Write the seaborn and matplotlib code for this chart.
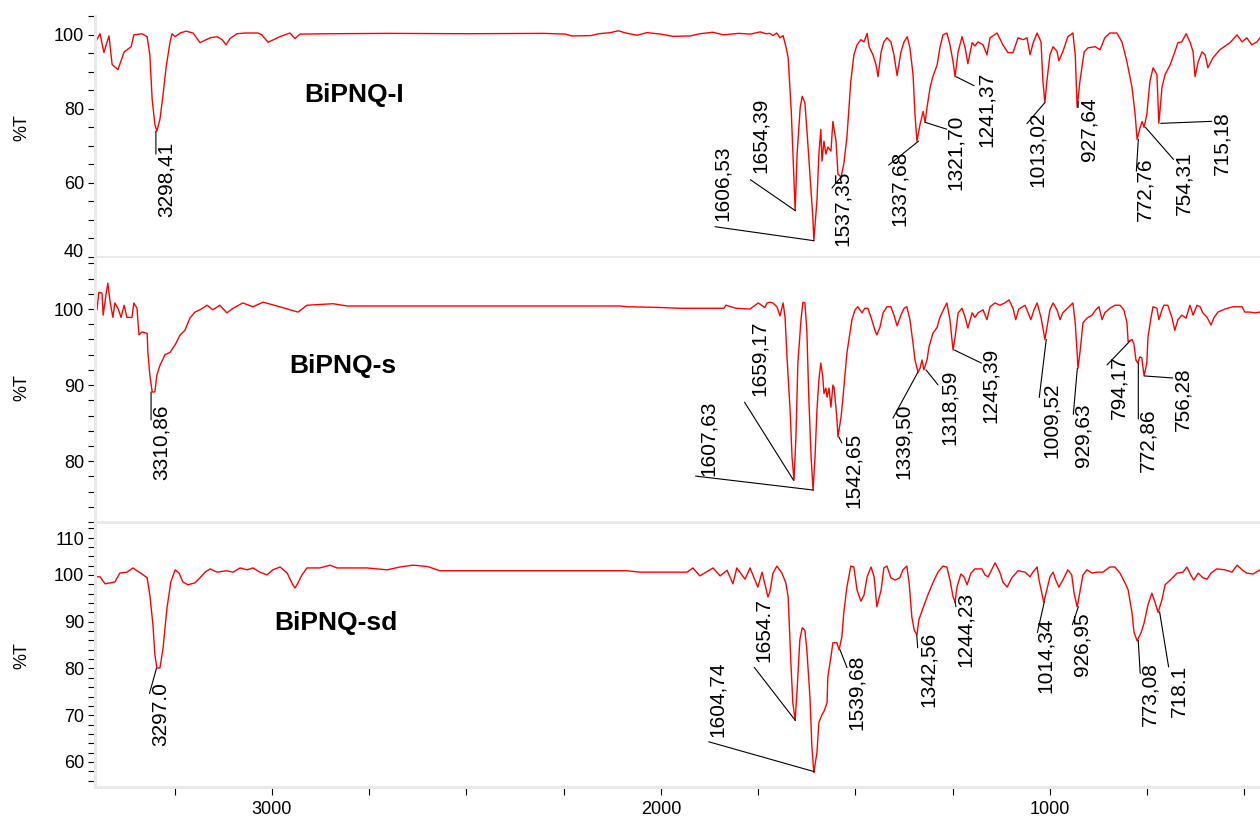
import matplotlib
matplotlib.use("Agg")
import matplotlib.pyplot as plt
from matplotlib.ticker import MultipleLocator, FixedLocator
from matplotlib.transforms import ScaledTranslation
import seaborn as sns

# ---- spectra (wavenumber cm-1, %T) ----
wn_I = [3455, 3442, 3432, 3424, 3419, 3411, 3396, 3380, 3362, 3355, 3334, 3321, 3314, 3308, 3301, 3296,
        3288, 3280, 3272, 3262, 3257, 3249, 3236, 3221, 3203, 3185, 3159, 3141, 3128, 3118, 3108, 3090,
        3069, 3036, 3026, 3010, 2980, 2954, 2941, 2928, 2850, 2700, 2500, 2300, 2245, 2230, 2180, 2160,
        2130, 2110, 2090, 2062, 2036, 2000, 1969, 1925, 1900, 1866, 1840, 1800, 1770, 1745, 1730,
        1720, 1712, 1702, 1694, 1686, 1678, 1673, 1665, 1660, 1655, 1650, 1642, 1637, 1630, 1624, 1617,
        1609, 1607, 1599, 1594, 1589, 1586, 1581, 1576, 1571, 1563, 1558, 1550, 1545, 1537, 1530, 1522,
        1512, 1504, 1496, 1486, 1478, 1470, 1465, 1455, 1447, 1442, 1434, 1427, 1419, 1409, 1401, 1393,
        1383, 1375, 1367, 1360, 1352, 1347, 1342, 1334, 1326, 1321, 1316, 1308, 1301, 1290, 1283, 1275,
        1265, 1257, 1249, 1244, 1236, 1226, 1218, 1211, 1200, 1193, 1185, 1172, 1162, 1154, 1136, 1121,
        1108, 1095, 1082, 1069, 1059, 1051, 1043, 1033, 1023, 1018, 1013, 1008, 1000, 992, 982, 977,
        967, 954, 941, 935, 930, 923, 912, 902, 884, 871, 859, 846, 828, 815, 802, 789, 781, 776, 768,
        763, 758, 751, 743, 735, 725, 720, 712, 704, 691, 679, 671, 661, 650, 640, 632, 627, 619, 609,
        601, 594, 581, 563, 537, 519, 506, 494, 481, 468, 460]
t_I = [97.8, 100.3, 95.2, 98.1, 99.7, 92.0, 90.6, 95.4, 96.8, 100.0, 100.3, 99.5, 94.6, 82.5, 75.8, 74.0,
       77.2, 83.9, 91.4, 98.1, 100.3, 99.5, 100.5, 101.0, 100.5, 97.9, 99.2, 99.5, 98.7, 97.3, 99.0, 100.3,
       100.5, 100.5, 100.0, 98.0, 99.5, 100.5, 99.0, 100.2, 100.3, 100.4, 100.3, 100.4, 100.2, 99.7, 99.8, 100.3,
       100.6, 101.1, 100.5, 99.9, 100.6, 100.2, 99.6, 99.7, 100.3, 100.7, 100.0, 100.4, 100.2, 100.8, 100.3,
       100.4, 99.8, 100.5, 99.2, 99.8, 96.5, 93.8, 79.3, 65.9, 52.5, 67.8, 80.4, 83.4, 81.7, 73.1, 62.4,
       49.8, 44.4, 55.2, 67.8, 74.5, 65.9, 71.3, 67.8, 69.7, 68.6, 76.6, 71.3, 62.4, 61.6, 65.1, 72.3,
       87.4, 94.6, 97.3, 98.7, 98.1, 100.4, 96.8, 94.6, 91.9, 88.7, 95.4, 98.1, 99.2, 98.1, 94.6, 89.0,
       95.4, 98.1, 99.5, 96.5, 89.3, 78.5, 71.3, 75.8, 79.3, 76.4, 80.4, 85.8, 88.7, 91.9, 96.5, 100.0,
       100.5, 97.3, 92.7, 88.7, 95.4, 99.5, 96.5, 92.2, 97.9, 97.0, 98.1, 97.3, 94.6, 99.2, 100.5, 97.3,
       95.2, 95.2, 99.2, 98.7, 99.2, 94.6, 97.9, 100.5, 98.1, 87.4, 81.7, 87.4, 94.6, 96.8, 95.6, 93.0,
       95.4, 99.5, 100.5, 94.6, 80.4, 87.4, 95.4, 96.5, 96.8, 96.0, 99.2, 100.5, 100.5, 98.1, 92.7, 85.8, 78.5, 71.8, 75.0,
       76.6, 75.0, 78.5, 87.4, 91.1, 89.3, 76.1, 85.8, 89.3, 91.9, 95.4, 97.9, 98.1, 100.3, 98.1, 95.4, 88.7, 92.7, 95.4,
       94.6, 91.1, 93.8, 96.0, 97.9, 100.0, 98.1, 99.2, 97.3, 98.1, 99.2]

wn_s = [3450, 3445, 3437, 3434, 3427, 3422, 3416, 3409, 3404, 3396, 3388, 3380, 3373, 3360, 3355, 3347,
        3342, 3334, 3321, 3319, 3314, 3308, 3301, 3296, 3288, 3275, 3262, 3249, 3236, 3224, 3211, 3198,
        3185, 3167, 3152, 3134, 3116, 3100, 3075, 3049, 3023, 2987, 2954, 2933, 2910, 2877, 2843, 2807,
        2756, 2704, 2500, 2300, 2105, 2087, 2000, 1951, 1838, 1833, 1807, 1771, 1750, 1733, 1727,
        1720, 1712, 1702, 1694, 1686, 1681, 1676, 1668, 1663, 1658, 1653, 1648, 1640, 1635, 1630, 1625,
        1620, 1614, 1609, 1604, 1599, 1594, 1589, 1584, 1581, 1576, 1573, 1568, 1563, 1558, 1555, 1548,
        1545, 1537, 1532, 1522, 1509, 1501, 1494, 1483, 1476, 1468, 1458, 1450, 1445, 1437, 1429, 1419,
        1409, 1401, 1393, 1383, 1375, 1368, 1360, 1352, 1347, 1339, 1334, 1329, 1324, 1316, 1311, 1301,
        1290, 1283, 1272, 1265, 1257, 1252, 1249, 1244, 1236, 1226, 1218, 1211, 1200, 1193, 1185, 1172,
        1162, 1154, 1141, 1129, 1116, 1105, 1095, 1088, 1080, 1064, 1057, 1049, 1041, 1033, 1023, 1018,
        1013, 1008, 1000, 992, 982, 974, 967, 951, 941, 935, 930, 928, 923, 915, 905, 892, 882, 874, 866,
        859, 846, 833, 820, 810, 802, 799, 789, 784, 779, 774, 769, 764, 758, 751, 748, 740, 735, 725,
        720, 712, 707, 697, 686, 679, 671, 661, 650, 640, 632, 622, 614, 607, 596, 586, 578, 568, 550,
        530, 506, 499, 486, 473, 460]
t_s = [99.9, 102.2, 102.1, 99.2, 101.8, 103.4, 100.9, 98.9, 100.8, 100.1, 98.9, 100.5, 98.9, 98.9, 100.8, 100.1,
       96.6, 97.0, 96.8, 94.3, 91.3, 89.1, 89.1, 91.3, 92.6, 94.0, 94.3, 95.3, 96.6, 97.2, 98.8, 99.6,
       99.9, 100.5, 99.9, 100.5, 99.5, 100.1, 100.8, 100.3, 100.9, 100.4, 99.9, 99.6, 100.5, 100.6, 100.7, 100.4,
       100.4, 100.4, 100.4, 100.4, 100.4, 100.3, 100.2, 100.1, 100.1, 100.5, 100.1, 100.0, 100.8, 100.2, 100.8,
       100.9, 100.8, 100.3, 99.1, 100.8, 98.9, 93.7, 86.7, 80.5, 77.5, 83.2, 92.9, 98.6, 100.9, 100.8, 97.2,
       88.4, 80.5, 76.2, 80.5, 86.7, 90.7, 92.9, 91.1, 88.9, 89.6, 88.4, 89.6, 87.1, 90.0, 89.7, 85.8,
       83.2, 85.8, 88.4, 94.2, 98.6, 99.9, 100.3, 99.5, 100.1, 100.1, 98.6, 97.2, 96.6, 97.6, 99.5, 100.3,
       100.3, 99.2, 97.8, 99.2, 100.1, 100.3, 98.6, 95.5, 93.3, 91.7, 92.2, 93.3, 92.0, 93.3, 95.0, 96.8,
       97.6, 98.9, 100.1, 100.8, 98.6, 96.0, 94.6, 96.3, 99.5, 100.1, 98.9, 97.5, 99.5, 98.9, 99.5, 99.9,
       98.6, 100.3, 100.8, 100.5, 100.8, 101.2, 100.1, 98.6, 100.0, 100.5, 99.6, 98.6, 99.9, 100.8, 98.9, 97.5,
       96.0, 97.5, 99.9, 100.8, 99.9, 98.6, 99.5, 100.3, 100.8, 98.2, 94.2, 92.2, 94.2, 98.2, 98.8, 99.2, 99.9, 100.3, 98.6,
       99.5, 100.1, 100.5, 100.5, 99.9, 98.2, 95.7, 96.0, 95.4, 93.3, 92.9, 93.7, 93.6, 91.2, 92.9, 96.3, 98.9, 100.3, 100.1,
       98.6, 99.9, 100.5, 100.5, 98.8, 97.2, 98.6, 99.2, 98.8, 100.5, 99.2, 100.5, 100.3, 99.5, 98.9, 97.9, 98.9, 99.6, 100.0,
       100.3, 100.3, 99.6, 99.6, 99.5, 99.6]

wn_sd = [3452, 3442, 3429, 3416, 3404, 3391, 3373, 3357, 3347, 3334, 3321, 3314, 3306, 3301, 3296, 3288,
         3280, 3270, 3260, 3249, 3239, 3229, 3216, 3198, 3185, 3172, 3159, 3141, 3116, 3100, 3082, 3064,
         3049, 3031, 3013, 2998, 2979, 2961, 2949, 2941, 2933, 2923, 2910, 2877, 2851, 2833, 2800, 2756,
         2704, 2671, 2638, 2600, 2568, 2400, 2200, 2087, 2054, 1933, 1918, 1900, 1866, 1848, 1830, 1815,
         1805, 1784, 1771, 1751, 1740, 1725, 1720, 1712, 1702, 1689, 1679, 1673, 1666, 1661, 1655, 1650,
         1643, 1637, 1630, 1625, 1617, 1612, 1607, 1599, 1594, 1586, 1581, 1573, 1571, 1563, 1558, 1548,
         1542, 1535, 1530, 1522, 1512, 1504, 1496, 1486, 1478, 1470, 1460, 1452, 1445, 1434, 1427, 1419,
         1409, 1398, 1386, 1378, 1368, 1362, 1355, 1349, 1342, 1337, 1326, 1314, 1301, 1288, 1275, 1265,
         1257, 1249, 1244, 1239, 1229, 1221, 1213, 1203, 1193, 1175, 1167, 1159, 1141, 1129, 1121, 1110,
         1098, 1082, 1064, 1051, 1044, 1033, 1028, 1021, 1016, 1008, 1000, 992, 985, 977, 967, 954, 944,
         938, 930, 923, 915, 905, 892, 879, 864, 846, 833, 820, 807, 799, 789, 784, 776, 766, 758, 748,
         738, 730, 722, 712, 704, 691, 673, 658, 648, 638, 630, 619, 607, 596, 586, 571, 550, 532, 519,
         506, 494, 478, 460]
t_sd = [99.6, 99.6, 98.1, 98.3, 98.5, 100.4, 100.6, 101.5, 100.9, 100.2, 99.4, 95.7, 89.3, 82.9, 80.1, 80.1,
        84.4, 92.9, 98.5, 101.1, 100.4, 98.5, 97.9, 98.3, 99.4, 100.6, 101.3, 100.6, 100.9, 100.6, 101.5, 101.1,
        101.5, 100.6, 100.0, 101.1, 101.7, 100.4, 98.3, 97.2, 98.3, 100.0, 101.5, 101.5, 102.1, 101.5, 101.5, 101.5,
        101.1, 101.7, 102.1, 101.8, 100.9, 100.9, 100.9, 100.9, 100.6, 100.6, 101.5, 99.8, 101.5, 99.8, 101.0, 98.1,
        101.5, 99.1, 101.5, 97.4, 100.6, 95.3, 96.4, 100.4, 101.9, 100.4, 98.3, 95.3, 81.2, 72.7, 68.9, 75.4,
        86.1, 88.7, 88.2, 84.0, 73.9, 63.3, 57.7, 62.0, 68.5, 70.1, 70.8, 72.7, 78.2, 82.5, 85.5, 85.5,
        84.0, 86.7, 91.9, 97.4, 101.9, 101.7, 96.8, 94.4, 95.7, 99.6, 101.7, 99.6, 93.2, 96.8, 101.5, 101.9,
        99.4, 98.9, 99.4, 101.1, 101.9, 98.3, 91.0, 88.2, 87.2, 90.4, 93.0, 95.7, 98.3, 100.6, 101.9, 101.7,
        98.9, 95.3, 94.2, 97.4, 100.2, 99.6, 97.9, 100.4, 101.3, 101.3, 100.0, 99.6, 102.6, 100.6, 98.5, 97.4,
        99.4, 100.9, 100.6, 99.6, 100.6, 101.7, 98.9, 96.1, 94.2, 96.8, 99.6, 100.6, 98.9, 97.4, 98.9, 101.1, 100.0,
        96.1, 93.2, 96.4, 100.0, 101.1, 100.4, 100.6, 100.6, 101.7, 101.7, 100.4, 98.3, 96.8, 91.9, 87.8, 85.9, 87.6, 89.7, 93.6,
        96.1, 94.2, 92.0, 94.7, 97.9, 98.9, 100.4, 100.6, 101.7, 100.0, 98.9, 100.4, 99.4, 99.1, 100.4, 101.3, 101.1, 100.6, 102.1,
        101.1, 100.4, 100.2, 101.1]

# ---- peak labels ----
pk_lab_I = ["3298,41", "1654,39", "1606,53", "1537,35", "1337,68", "1321,70", "1241,37",
            "1013,02", "927,64", "772,76", "754,31", "715,18"]
pk_wn_I = [3298.41, 1654.39, 1606.53, 1537.35, 1337.68, 1321.70, 1241.37, 1013.02, 927.64, 772.76, 754.31, 715.18]
pk_t_I = [74.0, 52.5, 44.4, 61.6, 71.3, 76.4, 88.7, 81.7, 80.4, 71.8, 75.0, 76.1]

pk_lab_s = ["3310,86", "1659,17", "1607,63", "1542,65", "1339,50", "1318,59", "1245,39",
            "1009,52", "929,63", "794,17", "772,86", "756,28"]
pk_wn_s = [3310.86, 1659.17, 1607.63, 1542.65, 1339.50, 1318.59, 1245.39, 1009.52, 929.63, 794.17, 772.86, 756.28]
pk_t_s = [89.1, 77.5, 76.2, 83.2, 91.7, 92.0, 94.6, 96.0, 92.2, 95.8, 92.9, 91.2]

pk_lab_sd = ["3297.0", "1654.7", "1604,74", "1539,68", "1342,56", "1244,23", "1014,34", "926,95", "773,08", "718.1"]
pk_wn_sd = [3297.0, 1654.7, 1604.74, 1539.68, 1342.56, 1244.23, 1014.34, 926.95, 773.08, 718.1]
pk_t_sd = [80.0, 68.9, 57.9, 84.0, 87.2, 94.3, 94.3, 93.2, 86.0, 92.1]

# leader line end and text corner offsets (pixels from the peak)
line_off_I = [(0, -23), (-45, 31), (-99, 14), (-9, -11), (-30, -24), (22, -7), (18, -9),
              (-18, -21), (0, 6), (-2, -32), (28, -32), (51, 2)]
text_off_I = [(1, -11), (-45, 113), (-101, 95), (-8, 6), (-29, -10), (21, 8), (21, 5),
              (-17, -9), (1, 10), (-3, -18), (29, -24), (52, 12)]
line_off_s = [(0, -28), (-49, 78), (-118, 14), (3, -6), (-25, -46), (12, -15), (27, -13),
              (-7, -58), (-4, -46), (-23, -24), (0, -56), (28, -2)]
text_off_s = [(1, -13), (-44, 160), (-115, 90), (5, 4), (-24, -31), (14, 0), (26, 2),
              (-4, -43), (-4, -35), (-21, -14), (0, -45), (29, 9)]
line_off_sd = [(-7, -25), (-41, 53), (-106, 30), (7, -18), (1, -13), (1, -5), (-7, -31), (-6, -18), (2, -33), (9, -55)]
text_off_sd = [(-5, -14), (-41, 122), (-107, 110), (7, -5), (2, 3), (1, 10), (-8, -16), (-6, -6), (2, -22), (10, -53)]

sns.set_theme(style="white")
plt.rcParams["font.family"] = ["Liberation Sans", "DejaVu Sans"]
plt.rcParams["text.color"] = "black"
plt.rcParams["axes.labelcolor"] = "black"
plt.rcParams["xtick.color"] = "black"
plt.rcParams["ytick.color"] = "black"

fig = plt.figure(figsize=(12.6, 8.19), dpi=100)
left, width = 95 / 1260, 1165 / 1260
panels = [
    dict(wn=wn_I, t=t_I, name="BiPNQ-I", lab=pk_lab_I, pw=pk_wn_I, pt=pk_t_I, lo=line_off_I, to=text_off_I,
         rect=[left, 0.6862, width, 0.2943], ylim=(40, 105.1), major=20, minor=5, title=(0.180, 0.643),
         ylab_y=0.535, shift={40: 0.07}),
    dict(wn=wn_s, t=t_s, name="BiPNQ-s", lab=pk_lab_s, pw=pk_wn_s, pt=pk_t_s, lo=line_off_s, to=text_off_s,
         rect=[left, 0.3626, width, 0.3223], ylim=(72.0, 106.7), major=10, minor=2, title=(0.167, 0.564),
         ylab_y=0.51, shift={}),
    dict(wn=wn_sd, t=t_sd, name="BiPNQ-sd", lab=pk_lab_sd, pw=pk_wn_sd, pt=pk_t_sd, lo=line_off_sd, to=text_off_sd,
         rect=[left, 0.0391, width, 0.3211], ylim=(54.65, 110.9), major=10, minor=2, title=(0.154, 0.597),
         ylab_y=0.5, shift={110: -0.10}),
]

for i, p in enumerate(panels):
    ax = fig.add_axes(p["rect"])
    sns.lineplot(x=p["wn"], y=p["t"], ax=ax, color="#ff0000", linewidth=1.0, sort=False, estimator=None)
    ax.set_xlim(3455, 460)
    ax.set_ylim(*p["ylim"])
    ax.yaxis.set_major_locator(MultipleLocator(p["major"]))
    ax.yaxis.set_minor_locator(MultipleLocator(p["minor"]))
    ax.xaxis.set_major_locator(FixedLocator([3000, 2000, 1000]))
    ax.xaxis.set_minor_locator(MultipleLocator(250))
    for side in ["top", "right"]:
        ax.spines[side].set_visible(False)
    for side in ["left", "bottom"]:
        ax.spines[side].set_color("#e9e9e9")
        ax.spines[side].set_linewidth(2.2)
    ax.tick_params(axis="y", which="both", left=True, direction="out", length=5, width=0.8,
                   color="black", labelsize=13, pad=3)
    if i < 2:
        ax.tick_params(axis="x", which="both", bottom=False, labelbottom=False)
    else:
        ax.tick_params(axis="x", which="both", bottom=True, direction="out", length=6, width=0.8,
                       color="black", labelsize=13, pad=4)
    ax.set_xlabel("")
    ax.set_ylabel("%T", fontsize=13)
    ax.yaxis.set_label_coords(-0.0558, p["ylab_y"])

    # edge tick labels sit nudged inside the panel in the original
    locs = list(ax.yaxis.get_majorticklocs())
    ticks = ax.yaxis.get_major_ticks(len(locs))
    for loc, tick in zip(locs, ticks):
        for val, dy in p["shift"].items():
            if abs(loc - val) < 1e-6:
                tick.label1.set_transform(tick.label1.get_transform()
                                          + ScaledTranslation(0, dy, fig.dpi_scale_trans))

    ax.text(p["title"][0], p["title"][1], p["name"], transform=ax.transAxes, fontsize=19,
            fontweight="bold", ha="left", va="baseline")
    for lab, w, t, lo, to in zip(p["lab"], p["pw"], p["pt"], p["lo"], p["to"]):
        ax.annotate("", xy=(w, t), xytext=lo, textcoords="offset pixels",
                    arrowprops=dict(arrowstyle="-", color="black", lw=0.8, shrinkA=0, shrinkB=0))
        ax.annotate(lab, xy=(w, t), xytext=to, textcoords="offset pixels", rotation=90,
                    ha="left", va="top", fontsize=15, annotation_clip=False)

fig.savefig("out.png", dpi=100)
